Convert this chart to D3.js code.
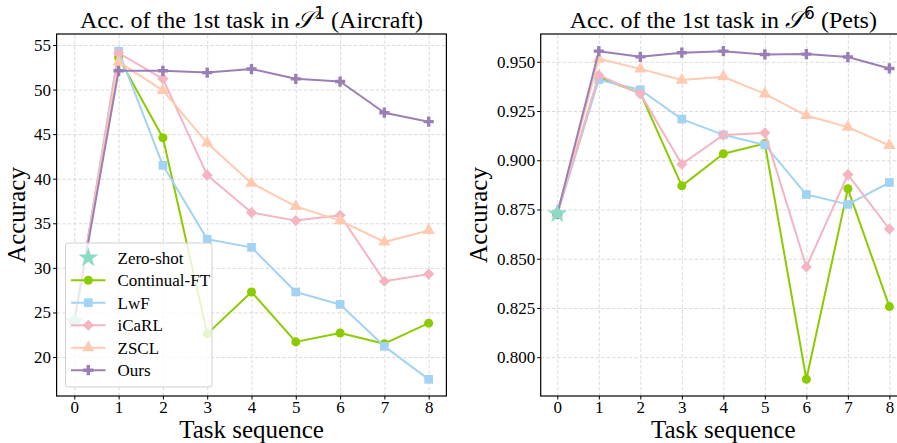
<!DOCTYPE html>
<html>
<head>
<meta charset="utf-8">
<script src="https://cdn.jsdelivr.net/npm/d3@7"></script>
<style>
  body { margin: 0; background: #fff; }
  svg { display: block; font-family: "Liberation Serif", "Times New Roman", serif; }
</style>
</head>
<body>
<div id="chart"></div>
<script>
//Task positions on the x axis
var tasks = [0, 1, 2, 3, 4, 5, 6, 7, 8]
var seriesNames = ["Continual-FT", "LwF", "iCaRL", "ZSCL", "Ours"]

//Aircraft values (first point is the zero-shot accuracy)
var aircraftZeroShot = 24.0
var aircraftFT    = [24.0, 53.6, 44.6, 22.6, 27.3, 21.7, 22.7, 21.5, 23.8]
var aircraftLwF   = [24.0, 54.3, 41.5, 33.2, 32.3, 27.3, 25.9, 21.2, 17.5]
var aircraftICaRL = [24.0, 54.1, 51.2, 40.4, 36.2, 35.3, 35.9, 28.5, 29.3]
var aircraftZSCL  = [24.0, 53.1, 49.9, 44.0, 39.5, 36.9, 35.3, 32.9, 34.2]
var aircraftOurs  = [24.0, 52.1, 52.1, 51.9, 52.3, 51.2, 50.9, 47.4, 46.4]

//Pets values
var petsZeroShot = 0.8728
var petsFT    = [0.8728, 0.9420, 0.9341, 0.8870, 0.9033, 0.9085, 0.7888, 0.8855, 0.8257]
var petsLwF   = [0.8728, 0.9409, 0.9358, 0.9209, 0.9129, 0.9078, 0.8826, 0.8776, 0.8887]
var petsICaRL = [0.8728, 0.9432, 0.9337, 0.8980, 0.9128, 0.9139, 0.8458, 0.8927, 0.8651]
var petsZSCL  = [0.8728, 0.9515, 0.9464, 0.9407, 0.9424, 0.9337, 0.9227, 0.9168, 0.9075]
var petsOurs  = [0.8728, 0.9554, 0.9525, 0.9546, 0.9554, 0.9537, 0.9539, 0.9524, 0.9466]

//Tick labels
var xTicks = [0, 1, 2, 3, 4, 5, 6, 7, 8]
var aircraftYTicks = [20, 25, 30, 35, 40, 45, 50, 55]
var petsYTicks = [0.800, 0.825, 0.850, 0.875, 0.900, 0.925, 0.950]

var colors = {
  "Zero-shot": "#8bdcc4",
  "Continual-FT": "#8ccb00",
  "LwF": "#a3d3f3",
  "iCaRL": "#f4b4c1",
  "ZSCL": "#ffcab0",
  "Ours": "#9a7fb6"
}
var symbols = {
  "Continual-FT": {type: d3.symbolCircle, size: 64, rot: 0},
  "LwF": {type: d3.symbolSquare, size: 76, rot: 0},
  "iCaRL": {type: d3.symbolSquare, size: 62, rot: 45},
  "ZSCL": {type: d3.symbolTriangle, size: 66, rot: 0},
  "Ours": {type: d3.symbolCross, size: 58, rot: 0}
}
var serif = "Liberation Serif, Times New Roman, serif"

//Creates the SVG
var svg = d3.select("#chart")
  .append("svg")
  .attr("width", 897)
  .attr("height", 443)

function drawPanel(opt) {
  var x = d3.scaleLinear().domain([-0.4, 8.4]).range([opt.left, opt.right])
  var y = d3.scaleLinear().domain(opt.yDomain).range([396, 34])
  var g = svg.append("g")

  //grid lines
  g.append("g")
    .attr("transform", "translate(0,396)")
    .call(d3.axisBottom(x).tickValues(xTicks).tickSize(-362).tickFormat(""))
    .call(s => s.select(".domain").remove())
    .selectAll("line").attr("stroke", "#d2d2d2").attr("stroke-dasharray", "3.5,2").attr("stroke-width", 0.8)
  g.append("g")
    .attr("transform", "translate(" + opt.left + ",0)")
    .call(d3.axisLeft(y).tickValues(opt.yTicks).tickSize(-(opt.right - opt.left)).tickFormat(""))
    .call(s => s.select(".domain").remove())
    .selectAll("line").attr("stroke", "#d2d2d2").attr("stroke-dasharray", "3.5,2").attr("stroke-width", 0.8)

  //the lines with their markers
  var line = d3.line().x((d, i) => x(tasks[i])).y(d => y(d))
  opt.series.forEach(function(vals, k) {
    var name = seriesNames[k]
    g.append("path")
      .attr("d", line(vals))
      .attr("fill", "none")
      .attr("stroke", colors[name])
      .attr("stroke-width", 2)
      .attr("stroke-linejoin", "round")
    var sym = symbols[name]
    g.selectAll(null)
      .data(vals)
      .enter()
      .append("path")
      .attr("d", d3.symbol().type(sym.type).size(sym.size))
      .attr("transform", (d, i) => "translate(" + x(tasks[i]) + "," + y(d) + ") rotate(" + sym.rot + ")")
      .attr("fill", colors[name])
  })

  //zero-shot star
  g.append("path")
    .attr("d", d3.symbol().type(d3.symbolStar).size(125))
    .attr("transform", "translate(" + x(0) + "," + y(opt.zeroShot) + ")")
    .attr("fill", colors["Zero-shot"])

  //axes
  var xAxis = g.append("g")
    .attr("transform", "translate(0,396)")
    .call(d3.axisBottom(x).tickValues(xTicks).tickSize(3.5).tickPadding(1.5))
  var yAxis = g.append("g")
    .attr("transform", "translate(" + opt.left + ",0)")
    .call(d3.axisLeft(y).tickValues(opt.yTicks).tickSize(3.5).tickPadding(2).tickFormat(opt.fmt))
  ;[xAxis, yAxis].forEach(function(a) {
    a.attr("font-family", serif).attr("font-size", 17)
    a.select(".domain").remove()
    a.selectAll("text").attr("font-size", 17).attr("fill", "#000").style("font-family", serif)
    a.selectAll("line").attr("stroke", "#000")
  })

  //frame
  g.append("rect")
    .attr("x", opt.left).attr("y", 34)
    .attr("width", opt.right - opt.left).attr("height", 362)
    .attr("fill", "none").attr("stroke", "#000").attr("stroke-width", 1.2)

  //title and labels
  var title = g.append("text")
    .attr("x", (opt.left + opt.right) / 2)
    .attr("y", 28)
    .attr("text-anchor", "middle")
    .attr("font-size", 24)
  title.append("tspan").text("Acc. of the 1st task in ")
  title.append("tspan").text("𝒮").attr("font-family", "DejaVu Serif, serif").attr("font-style", "italic")
  title.append("tspan").text(opt.sup).attr("font-size", 17).attr("dy", -9).attr("font-family", "DejaVu Sans")
  title.append("tspan").text(" (" + opt.dataset + ")").attr("dy", 9)

  g.append("text")
    .attr("x", (opt.left + opt.right) / 2)
    .attr("y", 438)
    .attr("text-anchor", "middle")
    .attr("font-size", 25)
    .text("Task sequence")

  g.append("text")
    .attr("transform", "translate(" + opt.yLabelX + ",215) rotate(-90)")
    .attr("text-anchor", "middle")
    .attr("font-size", 25)
    .text("Accuracy")
}

drawPanel({
  left: 56.6, right: 446.4,
  yDomain: [15.63, 56.23], yTicks: aircraftYTicks, fmt: d3.format("d"),
  series: [aircraftFT, aircraftLwF, aircraftICaRL, aircraftZSCL, aircraftOurs],
  zeroShot: aircraftZeroShot, sup: "1", dataset: "Aircraft", yLabelX: 25
})
drawPanel({
  left: 540.7, right: 906,
  yDomain: [0.7803, 0.9641], yTicks: petsYTicks, fmt: d3.format(".3f"),
  series: [petsFT, petsLwF, petsICaRL, petsZSCL, petsOurs],
  zeroShot: petsZeroShot, sup: "6", dataset: "Pets", yLabelX: 487
})

//Legend on the left panel
var legendNames = ["Zero-shot"].concat(seriesNames)
var legend = svg.append("g")
legend.append("rect")
  .attr("x", 65.5).attr("y", 243)
  .attr("width", 146.5).attr("height", 144)
  .attr("rx", 3)
  .attr("fill", "#fff").attr("fill-opacity", 0.8)
  .attr("stroke", "#d0d0d0")
legendNames.forEach(function(name, i) {
  var ly = 257.7 + i * 22.5
  if (name != "Zero-shot") {
    legend.append("line")
      .attr("x1", 71).attr("x2", 105.5)
      .attr("y1", ly).attr("y2", ly)
      .attr("stroke", colors[name]).attr("stroke-width", 2)
    var sym = symbols[name]
    legend.append("path")
      .attr("d", d3.symbol().type(sym.type).size(sym.size))
      .attr("transform", "translate(88.3," + ly + ") rotate(" + sym.rot + ")")
      .attr("fill", colors[name])
  } else {
    legend.append("path")
      .attr("d", d3.symbol().type(d3.symbolStar).size(125))
      .attr("transform", "translate(88.3," + ly + ")")
      .attr("fill", colors[name])
  }
  legend.append("text")
    .attr("x", 117.5).attr("y", ly + 6)
    .attr("font-size", 17)
    .text(name)
})
</script>
</body>
</html>
